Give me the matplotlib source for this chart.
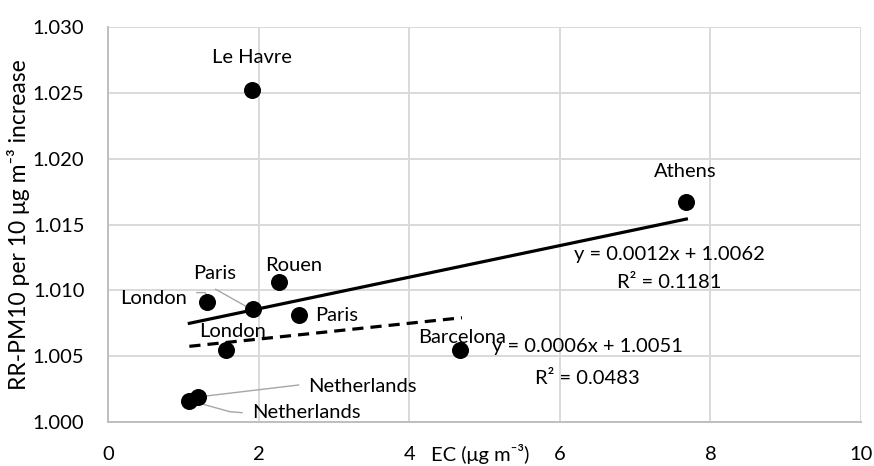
import numpy as np
import matplotlib
matplotlib.use('Agg')
from matplotlib import pyplot as plt

plt.rcParams['font.family'] = ['Lato', 'DejaVu Sans']

# data
cities = ['Le Havre', 'Athens', 'Rouen', 'Paris', 'London', 'Paris', 'London',
          'Barcelona', 'Netherlands', 'Netherlands']
ec = [1.91, 7.68, 2.27, 1.92, 1.32, 2.53, 1.56, 4.68, 1.20, 1.08]
rr = [1.0252, 1.0167, 1.0106, 1.0086, 1.0091, 1.0081, 1.0055, 1.0055, 1.0019, 1.0016]

# trend lines as printed on the chart
trend_slope = [0.0012, 0.0006]
trend_icept = [1.0062, 1.0051]
trend_r2 = [0.1181, 0.0483]
trend_xrange = [(1.08, 7.68), (1.08, 4.70)]

x_ticks = [0, 2, 4, 6, 8, 10]
y_ticks = [1.000, 1.005, 1.010, 1.015, 1.020, 1.025, 1.030]

# label placement (data coords) and leader lines
label_pos = [(1.91, 1.0277), (7.67, 1.0190), (2.47, 1.0119), (1.42, 1.0113),
             (0.60, 1.0094), (3.04, 1.0081), (1.66, 1.0069), (4.70, 1.0064),
             (3.38, 1.0027), (2.63, 1.0007)]
leaders = [
    ([1.43, 1.84], [1.01008, 1.00876]),
    ([1.18, 1.29, 1.35], [1.00983, 1.00983, 1.00927]),
    ([2.53, 1.22], [1.00281, 1.00192]),
    ([1.78, 1.62, 1.09], [1.00071, 1.00078, 1.00162]),
]
eq_pos = [((7.45, 1.0127), (7.45, 1.0106)), ((6.36, 1.0057), (6.36, 1.0033))]

fig = plt.figure(figsize=(8.74, 4.66), dpi=100)
ax = fig.add_axes([0.1236, 0.0944, 0.8616, 0.8476])

ax.set_xlim(0, 10)
ax.set_ylim(1.000, 1.030)
ax.set_xticks(x_ticks)
ax.set_yticks(y_ticks)
ax.set_xticklabels([str(t) for t in x_ticks])
ax.set_yticklabels(['%.3f' % t for t in y_ticks])
ax.grid(True, color='#d9d9d9', linewidth=1.4)
ax.set_axisbelow(True)
for s in ['top', 'right']:
    ax.spines[s].set_visible(False)
for s in ['left', 'bottom']:
    ax.spines[s].set_color('#bfbfbf')
    ax.spines[s].set_linewidth(1.4)
ax.tick_params(length=0, labelsize=14.5, pad=17, colors='black')

for (xa, xb), m, b, ls in zip(trend_xrange, trend_slope, trend_icept, ['-', '--']):
    xs = np.array([xa, xb])
    if ls == '-':
        ax.plot(xs, m * xs + b, color='black', lw=2.3, ls='-', zorder=3)
    else:
        ax.plot(xs, m * xs + b, color='black', lw=2.3, ls=(0, (3.5, 2.2)), zorder=3)

ax.scatter(ec, rr, s=150, color='black', zorder=4, linewidths=0)

for lx, ly in leaders:
    ax.plot(lx, ly, color='#a6a6a6', lw=1.0, zorder=2)

for name, (tx, ty) in zip(cities, label_pos):
    ax.text(tx, ty, name, ha='center', va='center', fontsize=14.5, zorder=5)

for (p1, p2), m, b, r2 in zip(eq_pos, trend_slope, trend_icept, trend_r2):
    ax.text(*p1, 'y = %.4fx + %.4f' % (m, b), ha='center', va='center', fontsize=14.5, zorder=5)
    ax.text(*p2, 'R² = %.4f' % r2, ha='center', va='center', fontsize=14.5, zorder=5)

ax.set_xlabel('EC (μg m⁻³)', fontsize=14.5)
ax.xaxis.set_label_coords(0.494, -0.055)
ax.set_ylabel('RR-PM10 per 10 μg m⁻³ increase', fontsize=16.5)
ax.yaxis.set_label_coords(-0.104, 0.5)

fig.savefig('out.png', dpi=100)
